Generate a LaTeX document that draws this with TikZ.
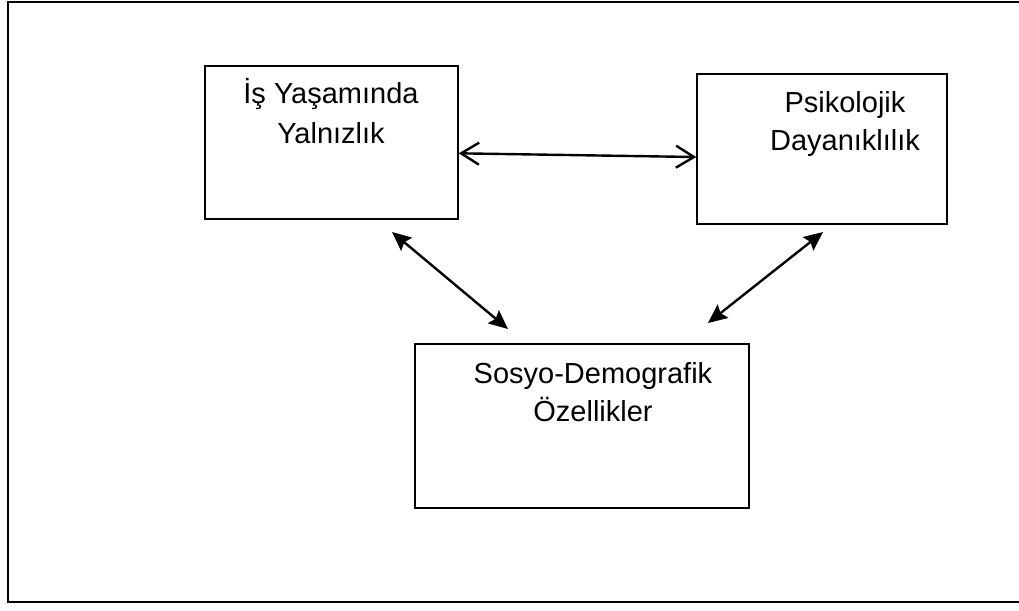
\documentclass[tikz,border=0pt]{standalone}
\usepackage{fontspec}
\setmainfont{Liberation Sans}
\usetikzlibrary{arrows.meta,calc}
\begin{document}
\begin{tikzpicture}[x=1pt,y=-1pt,
  box/.style={draw,line width=1.5pt,inner sep=0pt},
  lbl/.style={anchor=base,inner sep=0pt,font=\fontsize{29}{40}\selectfont},
  openarr/.style={line width=2.4pt,{Straight Barb[length=18pt,width=22pt,line width=2.4pt]}-{Straight Barb[length=18pt,width=22pt,line width=2.4pt]}},
  fillarr/.style={line width=2.4pt,{Stealth[length=19pt,width=17pt,inset=3pt]}-{Stealth[length=19pt,width=17pt,inset=3pt]}}]
\useasboundingbox (0,0) rectangle (1019,610);
\clip (0,0) rectangle (1019,610);
\draw[line width=2pt] (8,2) rectangle (1040,602);
% boxes
\node[box,minimum width=253pt,minimum height=153pt] (b1) at (331.5,142.5) {};
\node[box,minimum width=250pt,minimum height=150pt] (b2) at (822,149) {};
\node[box,minimum width=334pt,minimum height=164pt] (b3) at (582,426) {};
% texts
\node[lbl] (t1a) at (331,103) {İş Yaşamında};
\node[lbl] (t1b) at (331,143) {Yalnızlık};
\node[lbl] (t2a) at (845,112) {Psikolojik};
\node[lbl] (t2b) at (845,150) {Dayanıklılık};
\node[lbl] (t3a) at (593,383) {Sosyo-Demografik};
\node[lbl] (t3b) at (593,421) {Özellikler};
% connectors
\draw[openarr] ($(b1.north east)!0.57!(b1.south east)$) -- ($(b2.north west)!0.553!(b2.south west)$);
\coordinate (p1) at (392,232);
\coordinate (q1) at (508,329);
\coordinate (p2) at (823,232);
\coordinate (q2) at (708,323);
\draw[fillarr] (p1) -- (q1);
\draw[fillarr] (p2) -- (q2);
\end{tikzpicture}
\end{document}
